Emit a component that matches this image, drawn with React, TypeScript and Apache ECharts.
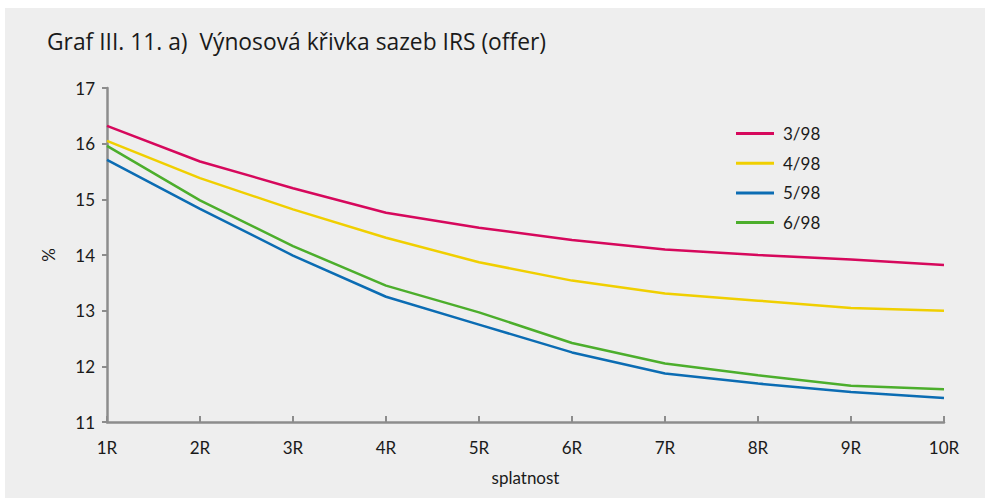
import React, { useEffect, useRef } from "react";
import * as echarts from "echarts";

const categories = ["1R", "2R", "3R", "4R", "5R", "6R", "7R", "8R", "9R", "10R"];
const seriesNames = ["3/98", "4/98", "5/98", "6/98"];
const s398 = [16.32, 15.68, 15.2, 14.76, 14.49, 14.27, 14.1, 14.0, 13.92, 13.82];
const s498 = [16.05, 15.38, 14.82, 14.31, 13.87, 13.54, 13.31, 13.18, 13.05, 13.0];
const s598 = [15.71, 14.83, 13.99, 13.25, 12.75, 12.25, 11.87, 11.69, 11.54, 11.43];
const s698 = [15.96, 14.98, 14.16, 13.45, 12.97, 12.42, 12.05, 11.84, 11.65, 11.59];
const colors = ["#d6085c", "#f0cf00", "#0b6cb3", "#4cae2c"];
const yTicks = { min: 11, max: 17, interval: 1 };

const FONT = "Lato";
const TITLE_FONT = "Open Sans";

export default function App() {
  const ref = useRef<HTMLDivElement>(null);
  useEffect(() => {
    if (!ref.current) return;
    const chart = echarts.init(ref.current, undefined, { renderer: "svg" });
    const data = [s398, s498, s598, s698];
    chart.setOption({
      animation: false,
      backgroundColor: "transparent",
      textStyle: { fontFamily: FONT },
      graphic: [
        {
          type: "rect",
          z: -10,
          silent: true,
          shape: { x: 5, y: 8, width: 980, height: 490 },
          style: { fill: "#eeeeee" },
        },
        {
          type: "text",
          left: 47,
          top: 30,
          style: {
            text: "Graf III. 11. a)  Výnosová křivka sazeb IRS (offer)",
            fontFamily: TITLE_FONT,
            fontSize: 22.8,
            fill: "#1a1a1a",
          },
        },
      ],
      legend: {
        orient: "vertical",
        left: 736,
        top: 125,
        padding: 0,
        itemWidth: 38,
        itemHeight: 3,
        itemGap: 12.7,
        icon: "rect",
        data: seriesNames,
        textStyle: {
          fontFamily: FONT,
          fontSize: 17,
          lineHeight: 17,
          color: "#1a1a1a",
          padding: [0, 0, 0, 4],
        },
      },
      grid: { left: 107, right: 43, top: 88, bottom: 77, containLabel: false },
      xAxis: {
        type: "category",
        data: categories,
        boundaryGap: false,
        name: "splatnost",
        nameLocation: "middle",
        nameGap: 47,
        nameTextStyle: { fontFamily: FONT, fontSize: 17, color: "#1a1a1a" },
        axisLine: { lineStyle: { color: "#8c8c8c", width: 2.5 } },
        axisTick: { inside: true, length: 6, lineStyle: { color: "#8c8c8c", width: 2 } },
        axisLabel: { fontFamily: FONT, fontSize: 17, color: "#1a1a1a", margin: 17 },
        splitLine: { show: false },
      },
      yAxis: {
        type: "value",
        min: yTicks.min,
        max: yTicks.max,
        interval: yTicks.interval,
        name: "%",
        nameLocation: "middle",
        nameGap: 50,
        nameRotate: 90,
        nameTextStyle: { fontFamily: FONT, fontSize: 17, color: "#1a1a1a" },
        axisLine: { show: true, lineStyle: { color: "#8c8c8c", width: 2.5 } },
        axisTick: { show: true, inside: false, length: 5, lineStyle: { color: "#8c8c8c", width: 2 } },
        axisLabel: { fontFamily: FONT, fontSize: 17, color: "#1a1a1a", margin: 12 },
        splitLine: { show: false },
      },
      series: seriesNames.map((name, i) => ({
        name,
        type: "line",
        data: data[i],
        symbol: "none",
        color: colors[i],
        lineStyle: { width: 2.5, color: colors[i] },
      })),
    });
    return () => chart.dispose();
  }, []);
  return (
    <div style={{ position: "absolute", left: 0, top: 0, width: 987, height: 499, background: "#ffffff" }}>
      <div ref={ref} style={{ width: 987, height: 499 }} />
    </div>
  );
}
